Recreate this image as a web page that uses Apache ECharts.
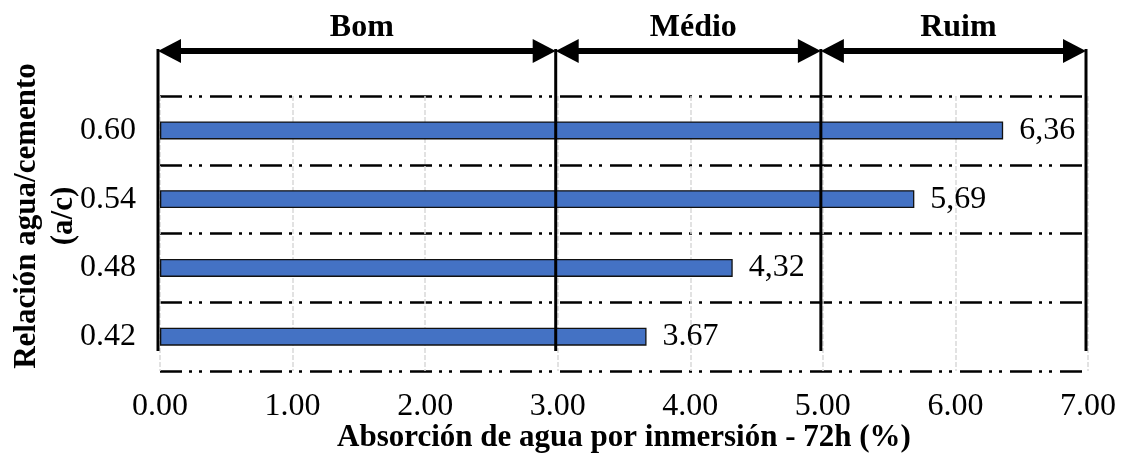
<!DOCTYPE html>
<html>
<head>
<meta charset="utf-8">
<script src="https://cdn.jsdelivr.net/npm/echarts@6/dist/echarts.min.js"></script>
<style>
  html, body { margin: 0; padding: 0; background: #fff; }
  #chart { width: 1123px; height: 455px; }
</style>
</head>
<body>
<div id="chart"></div>
<script>
// Water/cement ratios (bottom to top on the category axis)
const ratios = ['0.42', '0.48', '0.54', '0.60'];
// Water absorption by immersion after 72 h (%)
const absorption = [3.67, 4.32, 5.69, 6.36];
// Value labels as printed next to each bar
const absorptionLabels = ['3.67', '4,32', '5,69', '6,36'];
// X axis ticks
const xTicks = [0, 1, 2, 3, 4, 5, 6, 7];
// Quality classes: boundaries and names
const zoneBounds = [0, 3, 5, 7];
const zoneNames = ['Bom', 'Médio', 'Ruim'];

const SERIF = "'Liberation Serif', 'Times New Roman', serif";

const zones = zoneNames.map((name, i) => [zoneBounds[i], zoneBounds[i + 1], name]);

const chart = echarts.init(document.getElementById('chart'), null, { renderer: 'canvas' });

const option = {
  animation: false,
  backgroundColor: '#ffffff',
  grid: {
    left: 160, right: 35, top: 96, bottom: 84,
    containLabel: false,
    outerBoundsMode: 'none'
  },
  xAxis: {
    type: 'value',
    min: xTicks[0],
    max: xTicks[xTicks.length - 1],
    interval: 1,
    axisLine: { show: false },
    axisTick: { show: false },
    axisLabel: {
      margin: 20,
      fontFamily: SERIF,
      fontSize: 32,
      color: '#000',
      formatter: v => v.toFixed(2)
    },
    splitLine: { show: true, lineStyle: { color: '#d9d9d9', width: 1.5, type: [5, 2] } },
    name: 'Absorción de agua por inmersión - 72h (%)',
    nameLocation: 'middle',
    nameGap: 51,
    nameMoveOverlap: false,
    nameTextStyle: { fontFamily: SERIF, fontSize: 31, fontWeight: 'bold', color: '#000' }
  },
  yAxis: {
    type: 'category',
    data: ratios,
    axisLine: { show: false },
    axisTick: { show: false },
    axisLabel: { margin: 24, fontFamily: SERIF, fontSize: 32, color: '#000' },
    splitLine: {
      show: true,
      lineStyle: { color: '#000', width: 2.5, type: [22, 7, 3, 7, 3, 8] }
    }
  },
  graphic: [
    {
      type: 'text',
      x: 45,
      y: 216,
      rotation: Math.PI / 2,
      style: {
        text: 'Relación agua/cemento\n(a/c)',
        font: 'bold 31px ' + SERIF,
        lineHeight: 37,
        fill: '#000',
        align: 'center',
        verticalAlign: 'middle'
      }
    }
  ],
  series: [
    {
      type: 'bar',
      data: absorption,
      barWidth: 18,
      itemStyle: { color: '#4472C4', borderColor: '#111', borderWidth: 1.3 },
      label: {
        show: true,
        position: 'right',
        distance: 16,
        fontFamily: SERIF,
        fontSize: 32,
        color: '#000',
        formatter: p => absorptionLabels[p.dataIndex]
      },
      z: 3
    },
    {
      // vertical class boundaries
      type: 'custom',
      data: zoneBounds.map(v => [v, 0]),
      clip: false,
      z: 5,
      renderItem: function (params, api) {
        const cs = params.coordSys;
        const x = api.coord([api.value(0), 0])[0] - 2;
        return {
          type: 'line',
          shape: { x1: x, y1: cs.y - 47, x2: x, y2: cs.y + cs.height - 20 },
          style: { stroke: '#000', lineWidth: 3 }
        };
      }
    },
    {
      // double-headed arrows spanning each class, with its name above
      type: 'custom',
      data: zones.map(z => [z[0], z[1], z[2]]),
      dimensions: ['from', 'to', 'name'],
      encode: { x: [0, 1] },
      clip: false,
      z: 6,
      renderItem: function (params, api) {
        const cs = params.coordSys;
        const x1 = api.coord([api.value(0), 0])[0] - 2;
        const x2 = api.coord([api.value(1), 0])[0] - 2;
        const y = cs.y - 45;
        const L = 23, H = 12;
        return {
          type: 'group',
          children: [
            {
              type: 'line',
              shape: { x1: x1 + 6, y1: y, x2: x2 - 6, y2: y },
              style: { stroke: '#000', lineWidth: 6 }
            },
            {
              type: 'polygon',
              shape: { points: [[x1, y], [x1 + L, y - H], [x1 + L, y + H]] },
              style: { fill: '#000' }
            },
            {
              type: 'polygon',
              shape: { points: [[x2, y], [x2 - L, y - H], [x2 - L, y + H]] },
              style: { fill: '#000' }
            },
            {
              type: 'text',
              x: (x1 + x2) / 2 + 5,
              y: cs.y - 68,
              style: {
                text: zoneNames[params.dataIndex],
                font: 'bold 32px ' + SERIF,
                fill: '#000',
                align: 'center',
                verticalAlign: 'middle'
              }
            }
          ]
        };
      }
    }
  ]
};

chart.setOption(option);
</script>
</body>
</html>
